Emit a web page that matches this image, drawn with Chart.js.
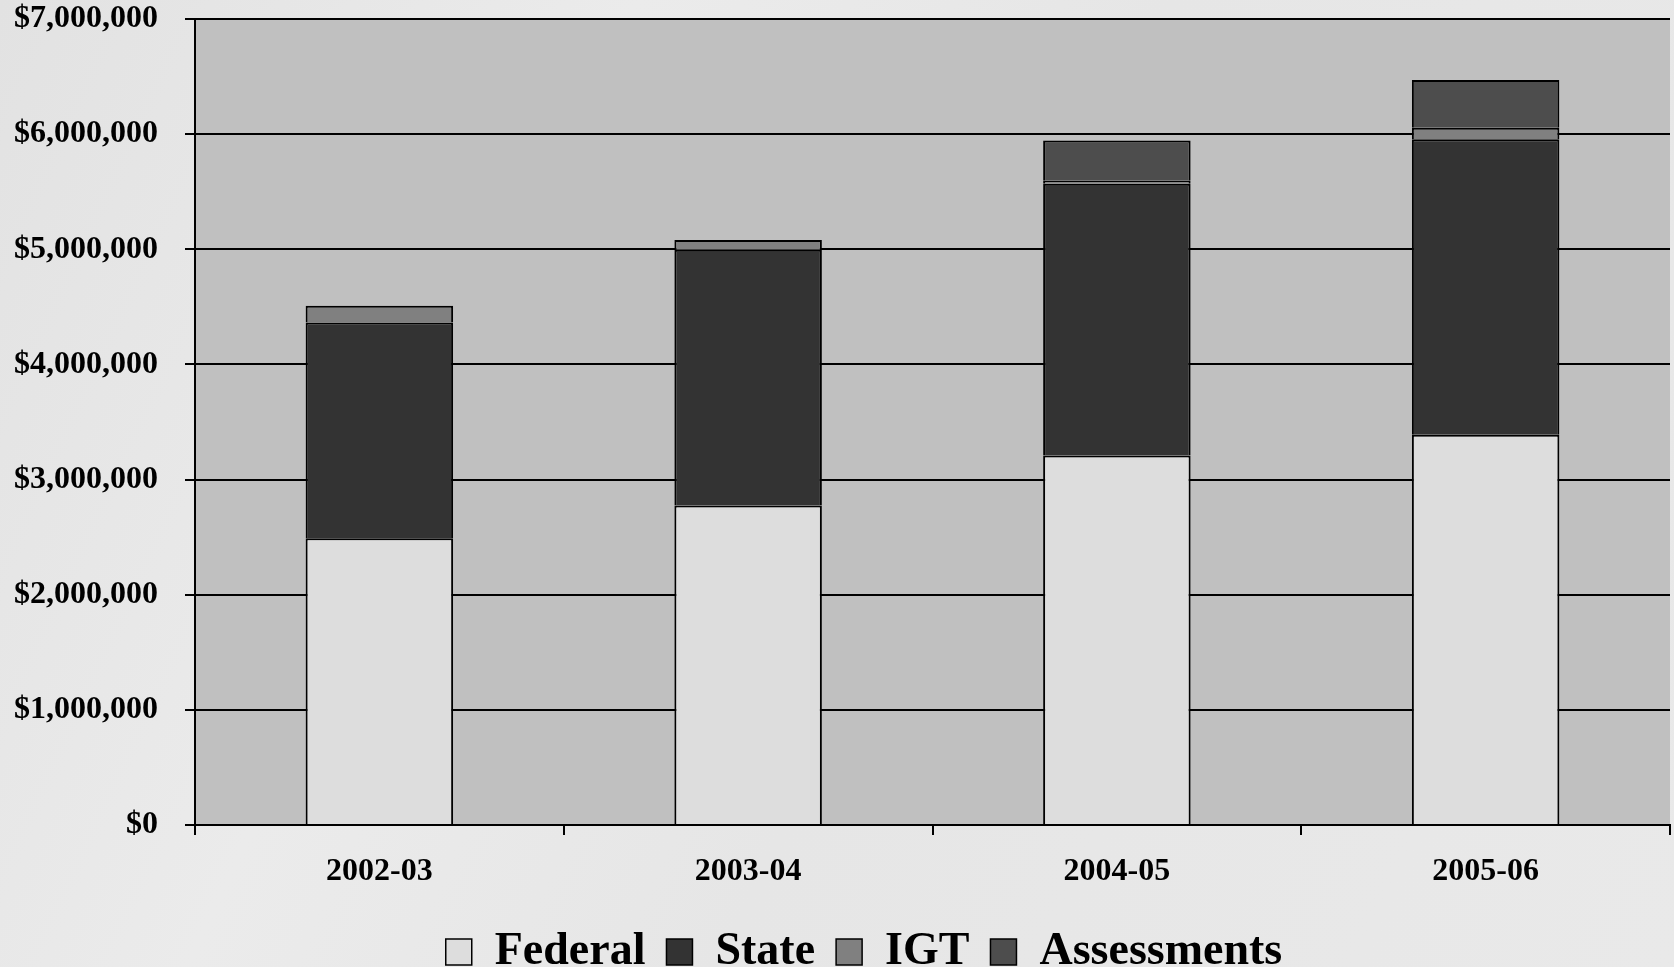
<!DOCTYPE html>
<html>
<head>
<meta charset="utf-8">
<script src="https://cdn.jsdelivr.net/npm/chart.js@4/dist/chart.umd.min.js"></script>
<style>
  html, body { margin: 0; padding: 0; overflow: hidden; }
  body {
    width: 1674px; height: 967px;
    background: linear-gradient(115deg, #e2e2e2 0%, #ebebeb 30%, #e6e6e6 55%, #e9e9e9 100%);
  }
  #wrap { width: 1674px; height: 985px; }
</style>
</head>
<body>
<div id="wrap"><canvas id="fundChart" width="1674" height="985"></canvas></div>
<script>
const years = ['2002-03', '2003-04', '2004-05', '2005-06'];
const federal = [2490000, 2775000, 3210000, 3390000];
const stateFunds = [1875000, 2220000, 2360000, 2565000];
const igt = [145000, 85000, 25000, 100000];
const assessments = [0, 0, 350000, 415000];

const serif = "'Liberation Serif', 'Times New Roman', serif";

// grey plot area behind the grid
const plotBg = {
  id: 'plotBg',
  beforeDraw(chart) {
    const a = chart.chartArea;
    const c = chart.ctx;
    c.save();
    c.fillStyle = '#c0c0c0';
    c.fillRect(a.left, a.top, a.right - a.left, a.bottom - a.top);
    c.restore();
  }
};

// nudge the legend row a little to the right
const legendShift = {
  id: 'legendShift',
  afterLayout(chart) {
    const lg = chart.legend;
    if (!lg) return;
    lg.left += 22;
    lg.right += 22;
    (lg.legendHitBoxes || []).forEach(b => { b.left += 22; });
  }
};

function seg(label, data, color) {
  return {
    label: label,
    data: data,
    backgroundColor: color,
    borderColor: '#000',
    // only the top edge of each block, so stacked joins stay one line thick
    borderWidth: c => (c.raw ? { left: 2, right: 2, top: 2, bottom: 0 } : 0),
    borderSkipped: false,
    inflateAmount: 0,
    categoryPercentage: 1,
    barPercentage: 0.4
  };
}

const ctx = document.getElementById('fundChart').getContext('2d');

const chart = new Chart(ctx, {
  type: 'bar',
  data: {
    labels: years,
    datasets: [
      seg('Federal', federal, '#dddddd'),
      seg('State', stateFunds, '#333333'),
      seg('IGT', igt, '#808080'),
      seg('Assessments', assessments, '#4d4d4d')
    ]
  },
  options: {
    responsive: false,
    animation: false,
    layout: {
      padding: { left: 14, right: 4, top: 0, bottom: 0 }
    },
    plugins: {
      tooltip: { enabled: false },
      legend: {
        position: 'bottom',
        labels: {
          color: '#000',
          boxWidth: 26,
          boxHeight: 26,
          padding: 21,
          font: { family: serif, size: 46, weight: 'bold' },
          generateLabels(chart) {
            return Chart.defaults.plugins.legend.labels.generateLabels(chart).map(it => {
              it.lineWidth = 1.5;
              it.strokeStyle = '#000';
              return it;
            });
          }
        }
      }
    },
    scales: {
      x: {
        stacked: true,
        border: { color: '#000', width: 2 },
        grid: {
          drawOnChartArea: false,
          drawTicks: true,
          tickLength: 10,
          color: '#000',
          lineWidth: 2
        },
        ticks: {
          color: '#000',
          padding: 18,
          font: { family: serif, size: 32, weight: 'bold' }
        },
        afterFit(scale) { scale.height = 83; }
      },
      y: {
        stacked: true,
        min: 0,
        max: 7000000,
        border: { color: '#000', width: 2 },
        grid: {
          color: '#000',
          lineWidth: 2,
          tickLength: 10
        },
        ticks: {
          stepSize: 1000000,
          color: '#000',
          padding: 27,
          font: { family: serif, size: 32, weight: 'bold' },
          callback: v => '$' + v.toLocaleString('en-US')
        },
        afterFit(scale) {
          scale.width = 181;
          scale.paddingTop = 19;
          scale.paddingBottom = 19;
        }
      }
    }
  },
  plugins: [plotBg, legendShift]
});
</script>
</body>
</html>
